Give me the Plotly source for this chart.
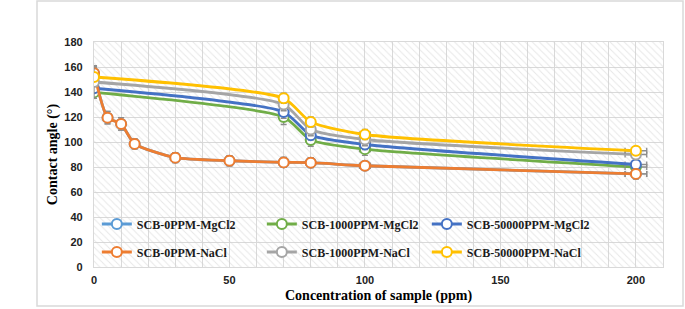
import plotly.graph_objects as go

# ---------------- data ----------------
x_nacl0 = [0, 5, 10, 15, 30, 50, 70, 80, 100, 200]
x_main = [0, 70, 80, 100, 200]

y_mg0 = [155, 119.5, 114.5, 98.5, 87.5, 85, 83.7, 83.5, 81, 74.5]
e_mg0 = [5, 5, 5, 4, 4, 4, 4, 4, 3, 4]
y_mg1000 = [139.7, 120, 101.6, 94.3, 80]
e_mg1000 = [3, 6, 5, 5, 3]
y_mg50000 = [143, 124, 105.5, 98, 82]
e_mg50000 = [3, 5, 4, 4, 3]
y_na0 = [155, 119.5, 114.5, 98.5, 87.5, 85, 83.7, 83.5, 81, 74.5]
e_na0 = [5, 5, 5, 4, 4, 4, 4, 4, 3, 4]
y_na1000 = [148, 130, 110, 102, 90]
e_na1000 = [13, 5, 5, 5, 3]
y_na50000 = [152, 135, 116, 106, 93]
e_na50000 = [3, 4, 4, 4, 3]

series = [
    ("SCB-0PPM-MgCl2", x_nacl0, y_mg0, e_mg0, "#5B9BD5", "legend"),
    ("SCB-1000PPM-MgCl2", x_main, y_mg1000, e_mg1000, "#70AD47", "legend"),
    ("SCB-50000PPM-MgCl2", x_main, y_mg50000, e_mg50000, "#4472C4", "legend"),
    ("SCB-0PPM-NaCl", x_nacl0, y_na0, e_na0, "#ED7D31", "legend2"),
    ("SCB-1000PPM-NaCl", x_main, y_na1000, e_na1000, "#A5A5A5", "legend2"),
    ("SCB-50000PPM-NaCl", x_main, y_na50000, e_na50000, "#FFC000", "legend2"),
]

x_ticks = [0, 50, 100, 150, 200]
y_ticks = [0, 20, 40, 60, 80, 100, 120, 140, 160, 180]

fig = go.Figure()

# hatched plot-area background on a hidden base subplot spanning the plot area
fig.add_trace(go.Scatter(
    x=[0, 1, 1, 0, 0], y=[0, 0, 1, 1, 0], xaxis="x", yaxis="y",
    mode="lines", line=dict(width=0), fill="toself", fillcolor="rgba(0,0,0,0)",
    fillpattern=dict(shape="\\", size=5, solidity=0.2, fgcolor="#d0d0d0", bgcolor="rgba(0,0,0,0)"),
    showlegend=False, hoverinfo="skip",
))

for name, xs, ys, es, col, lg in series:
    fig.add_trace(go.Scatter(
        x=xs, y=ys, name=name, mode="lines+markers", legend=lg, xaxis="x2", yaxis="y2",
        line=dict(color=col, width=2.8, shape="spline", smoothing=0.6),
        marker=dict(symbol="circle", size=10, color="white", line=dict(color=col, width=2)),
        error_y=dict(type="data", array=es, visible=True, color="#8c8c8c", thickness=1.3, width=3),
        error_x=dict(type="percent", value=2, visible=True, color="#8c8c8c", thickness=1.3, width=3),
    ))

tickfont = dict(family="Liberation Sans, Arial", size=11, color="#222", weight="bold")
titlefont = dict(family="Liberation Serif, Times New Roman", size=14, color="black", weight="bold")
legfont = dict(family="Liberation Serif, Times New Roman", size=12, color="#1a1a1a", weight="bold")
grid = "#d9d9d9"

fig.update_layout(
    width=685, height=309,
    margin=dict(l=94, r=22, t=42, b=42, autoexpand=False),
    paper_bgcolor="white", plot_bgcolor="white",
    xaxis=dict(range=[0, 1], visible=False, fixedrange=True),
    yaxis=dict(range=[0, 1], visible=False, fixedrange=True),
    xaxis2=dict(range=[0, 210], overlaying="x", anchor="y2", side="bottom",
                tickvals=x_ticks, ticktext=[str(v) for v in x_ticks],
                showgrid=True, gridcolor=grid, gridwidth=1.3,
                minor=dict(dtick=10, tick0=0, showgrid=True, gridcolor=grid, gridwidth=1.3),
                showline=True, linecolor=grid, linewidth=1.3, mirror=True,
                zeroline=False, tickfont=tickfont, ticks="", ticklabelstandoff=3, automargin=False),
    yaxis2=dict(range=[0, 180], overlaying="y", anchor="x2", side="left",
                tickvals=y_ticks, ticktext=[str(v) for v in y_ticks],
                showgrid=True, gridcolor=grid, gridwidth=1.3,
                showline=True, linecolor=grid, linewidth=1.3, mirror=True,
                zeroline=False, tickfont=tickfont, ticks="", ticklabelstandoff=8, automargin=False,
                title=dict(text="Contact angle (°)", font=titlefont, standoff=3)),
    annotations=[dict(text="Concentration of sample (ppm)", xref="paper", yref="paper",
                      x=0.5, y=(267 - 296) / 225, xanchor="center", yanchor="middle",
                      showarrow=False, font=titlefont)],
    legend=dict(orientation="h", x=0.005, y=(267 - 224) / 225, yanchor="middle", xanchor="left",
                bgcolor="rgba(0,0,0,0)", font=legfont, entrywidth=120, traceorder="normal"),
    legend2=dict(orientation="h", x=0.005, y=(267 - 252) / 225, yanchor="middle", xanchor="left",
                 bgcolor="rgba(0,0,0,0)", font=legfont, entrywidth=120, traceorder="normal"),
    shapes=[dict(type="rect", xref="paper", yref="paper",
                 x0=(37 - 94) / 569, x1=(683 - 94) / 569,
                 y0=(267 - 306) / 225, y1=(267 - 1) / 225,
                 line=dict(color="#d9d9d9", width=1.5), layer="below")],
)

fig.write_html("out.html", config={"displayModeBar": False},
               post_script="document.body.style.margin='0';")
